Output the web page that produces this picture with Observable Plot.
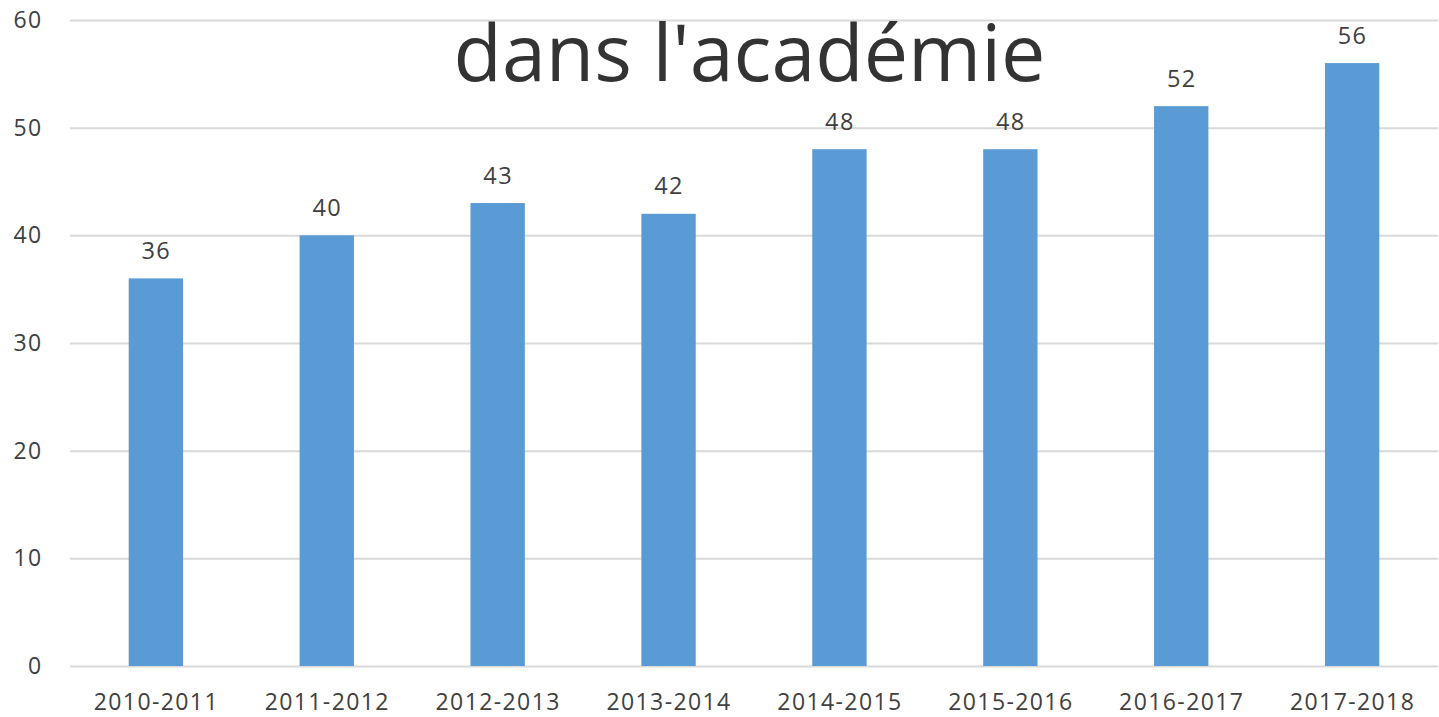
<!DOCTYPE html>
<html>
<head>
<meta charset="utf-8">
<script src="https://cdn.jsdelivr.net/npm/d3@7"></script>
<script src="https://cdn.jsdelivr.net/npm/@observablehq/plot@0.6"></script>
<style>
  html, body { margin: 0; padding: 0; background: #fff; }
  #chart svg { display: block; }
</style>
</head>
<body>
<div id="chart"></div>
<script>
const categories = ["2010-2011","2011-2012","2012-2013","2013-2014","2014-2015","2015-2016","2016-2017","2017-2018"];
const values = [36, 40, 43, 42, 48, 48, 52, 56];
const yTicks = [0, 10, 20, 30, 40, 50, 60];
const titleText = "dans l'académie";

const data = categories.map((c, i) => ({category: c, value: values[i]}));

const chart = Plot.plot({
  width: 1439,
  height: 717,
  marginLeft: 70,
  marginRight: 1,
  marginTop: 20,
  marginBottom: 51,
  style: {fontFamily: "'Open Sans', sans-serif", fontSize: "23px", color: "#404040", background: "#fff"},
  x: {domain: categories, paddingInner: 0.682, paddingOuter: 0.3435, align: 0.5, round: false, label: null},
  y: {domain: [0, 60], label: null},
  marks: [
    Plot.ruleY(yTicks, {stroke: "#d9d9d9", strokeWidth: 2}),
    Plot.barY(data, {x: "category", y: "value", fill: "#5b9bd5"}),
    Plot.text(data, {x: "category", y: "value", text: d => String(d.value), lineAnchor: "bottom", dy: -20, fill: "#404040", fontSize: 23.5}),
    Plot.axisX({tickSize: 0, tickPadding: 27, fontSize: 23, fill: "#404040", label: null}),
    Plot.axisY({ticks: yTicks, tickSize: 0, tickPadding: 28, fontSize: 23, fill: "#404040", label: null}),
    Plot.text([titleText], {frameAnchor: "top", text: d => d, lineAnchor: "bottom", dy: 60, dx: -5, fontSize: 79, fill: "#333333"})
  ]
});
document.getElementById("chart").append(chart);
chart.querySelectorAll("text").forEach(t => { if (t.textContent !== titleText) t.style.letterSpacing = "1.4px"; });
</script>
</body>
</html>
